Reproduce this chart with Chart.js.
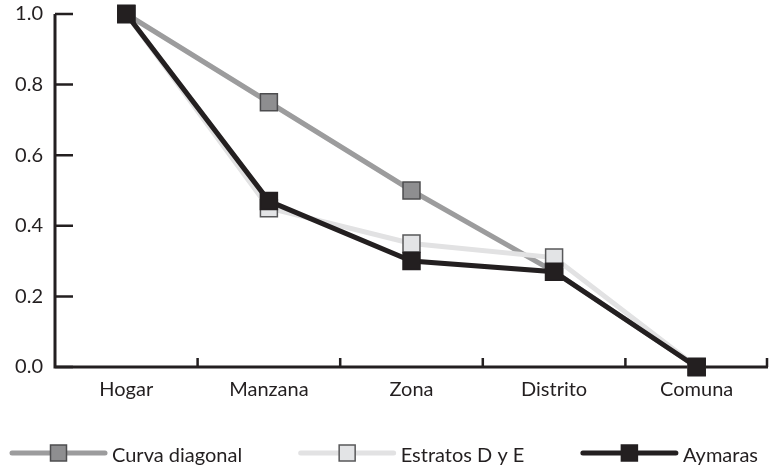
<!DOCTYPE html>
<html>
<head>
<meta charset="utf-8">
<script src="https://cdn.jsdelivr.net/npm/chart.js@4"></script>
<style>
    html, body { margin: 0; padding: 0; background: #fff; overflow: hidden; }
    canvas { display: block; }
</style>
</head>
<body>
<canvas id="chart" width="770" height="471"></canvas>
<script>
// data
const categories = ["Hogar", "Manzana", "Zona", "Distrito", "Comuna"];
const curvaDiagonal = [1.0, 0.75, 0.5, 0.27, 0.0];
const estratosDE = [1.0, 0.45, 0.35, 0.31, 0.0];
const aymaras = [1.0, 0.47, 0.30, 0.27, 0.0];
const yTicks = [0, 0.2, 0.4, 0.6, 0.8, 1.0];

const ink = "#231f20";
const fontFamily = "Lato, 'Noto Sans', sans-serif";
const fontSize = 20;

function makeSet(label, data, line, fill, border, order) {
    return {
        label: label,
        data: data,
        borderColor: line,
        borderWidth: 5,
        pointStyle: "rect",
        pointRadius: 12,
        pointBackgroundColor: fill,
        pointBorderColor: border,
        pointBorderWidth: 1.5,
        tension: 0,
        clip: false,
        order: order
    };
}

// axes with inward ticks, drawn under the lines
const axesPlugin = {
    id: "axes",
    beforeDatasetsDraw(chart) {
        const ctx = chart.ctx;
        const a = chart.chartArea;
        const x = chart.scales.x;
        const y = chart.scales.y;
        ctx.save();
        ctx.strokeStyle = ink;
        ctx.lineWidth = 3;
        ctx.lineCap = "butt";
        ctx.beginPath();
        ctx.moveTo(a.left, y.getPixelForValue(1.0));
        ctx.lineTo(a.left, a.bottom);
        ctx.lineTo(a.right, a.bottom);
        ctx.stroke();
        ctx.lineWidth = 2.5;
        ctx.beginPath();
        yTicks.forEach(v => {
            const py = y.getPixelForValue(v);
            ctx.moveTo(a.left, py);
            ctx.lineTo(a.left + 18, py);
        });
        for (let i = 0; i < categories.length; i++) {
            let px;
            if (i < categories.length - 1) {
                px = (x.getPixelForValue(i) + x.getPixelForValue(i + 1)) / 2;
            } else {
                px = a.right - 1;
            }
            ctx.moveTo(px, a.bottom);
            ctx.lineTo(px, a.bottom - 9);
        }
        ctx.stroke();
        ctx.restore();
    }
};

// legend at the bottom: line with a square marker, then the label
const legendPlugin = {
    id: "bottomLegend",
    afterDraw(chart) {
        const ctx = chart.ctx;
        const sets = chart.data.datasets;
        const lineLen = 93, gap = 7;
        const left = 12, right = 758, yPos = 453;
        ctx.save();
        ctx.font = fontSize + "px " + fontFamily;
        const widths = sets.map(d => lineLen + gap + ctx.measureText(d.label).width);
        const free = (right - left) - widths.reduce((s, w) => s + w, 0);
        const space = free / (sets.length - 1);
        let cx = left;
        sets.forEach((d, i) => {
            ctx.strokeStyle = d.borderColor;
            ctx.lineWidth = 5;
            ctx.lineCap = "round";
            ctx.beginPath();
            ctx.moveTo(cx, yPos);
            ctx.lineTo(cx + lineLen, yPos);
            ctx.stroke();
            const mx = cx + lineLen / 2;
            ctx.fillStyle = d.pointBackgroundColor;
            ctx.strokeStyle = d.pointBorderColor;
            ctx.lineWidth = 1.5;
            ctx.fillRect(mx - 8, yPos - 8, 16, 16);
            ctx.strokeRect(mx - 8, yPos - 8, 16, 16);
            ctx.fillStyle = ink;
            ctx.textBaseline = "middle";
            ctx.textAlign = "left";
            ctx.fillText(d.label, cx + lineLen + gap, yPos + 3);
            cx += widths[i] + space;
        });
        ctx.restore();
    }
};

new Chart(document.getElementById("chart"), {
    type: "line",
    data: {
        labels: categories,
        datasets: [
            makeSet("Curva diagonal", curvaDiagonal, "#9c9c9d", "#8e8e90", "#4d4d4f", 3),
            makeSet("Estratos D y E", estratosDE, "#e2e2e3", "#e3e4e6", "#58585a", 2),
            makeSet("Aymaras", aymaras, ink, ink, ink, 1)
        ]
    },
    options: {
        responsive: false,
        animation: false,
        events: [],
        layout: {
            autoPadding: false,
            padding: { top: 14, right: 2, bottom: 64, left: 0 }
        },
        plugins: { legend: { display: false }, tooltip: { enabled: false } },
        scales: {
            x: {
                offset: true,
                grid: { display: false, drawTicks: true, tickLength: 11 },
                border: { display: false },
                ticks: {
                    color: ink,
                    font: { family: fontFamily, size: fontSize },
                    padding: 0,
                    maxRotation: 0
                },
                afterFit(scale) {
                    scale.height = 40;
                    scale.paddingLeft = 0;
                    scale.paddingRight = 0;
                }
            },
            y: {
                min: 0,
                max: 1,
                grid: { display: false, drawTicks: true, tickLength: 12 },
                border: { display: false },
                afterBuildTicks(scale) { scale.ticks = yTicks.map(v => ({ value: v })); },
                ticks: {
                    color: ink,
                    font: { family: fontFamily, size: fontSize },
                    padding: 0,
                    callback: v => v.toFixed(1)
                },
                afterFit(scale) { scale.width = 55; }
            }
        }
    },
    plugins: [axesPlugin, legendPlugin]
});
</script>
</body>
</html>
